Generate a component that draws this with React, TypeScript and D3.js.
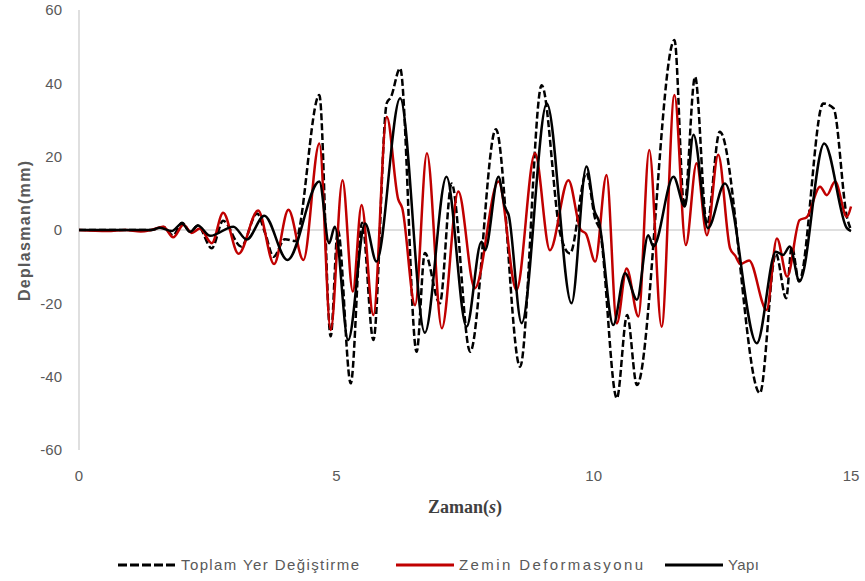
import React from "react";
import * as d3 from "d3";

// [zaman (s), deplasman (mm)] - peaks
const toplam: [number, number][] = [
  [0, 0], [1.4, 0], [1.64, 0.8], [1.83, -1.5], [2.0, 2], [2.16, -0.5], [2.31, 1.2],
  [2.58, -5], [2.8, 2.5], [3.15, -4.5], [3.46, 4.5], [3.62, -1], [3.78, -7.3],
  [4.0, -2.5], [4.2, -3], [4.67, 36.8], [4.89, -29], [5.03, 0], [5.28, -41.8],
  [5.5, 2], [5.72, -30], [5.98, 34.6], [6.06, 36.2], [6.24, 44.1], [6.56, -33.2],
  [6.72, -6.3], [7.01, -20], [7.24, 12.7], [7.6, -33.2], [8.1, 27.5], [8.57, -37.3],
  [8.99, 39.5], [9.35, -1], [9.54, -6.4], [9.86, 15.5], [10.03, 3], [10.12, 0],
  [10.45, -45.9], [10.65, -23.2], [10.84, -42.3], [11.57, 51.8], [11.76, 6.4],
  [11.97, 41.8], [12.2, 1.5], [12.45, 26.8], [13.23, -44.5], [13.54, -6.4],
  [13.74, -18.6], [13.85, -4.5], [13.99, -14], [14.46, 34.5], [14.66, 33.2],
  [14.92, 3.6], [15, 0],
];

const zemin: [number, number][] = [
  [0, 0], [0.55, -0.3], [0.9, 0], [1.2, -0.4], [1.4, 0], [1.64, 0.9], [1.83, -2],
  [2.03, 1.4], [2.19, -0.8], [2.35, 0.4], [2.58, -3.6], [2.8, 4.7], [3.1, -6.5],
  [3.48, 5.3], [3.79, -9.3], [4.07, 5.5], [4.36, -8.2], [4.67, 23.6], [4.89, -27.3],
  [5.12, 13.6], [5.32, -16.8], [5.49, 6.8], [5.72, -23.2], [5.98, 30.9], [6.2, 8.5],
  [6.28, 6], [6.53, -20.5], [6.76, 20.9], [7.05, -26.8], [7.37, 10.5], [7.69, -15.9],
  [8.15, 13.2], [8.5, -16.4], [8.86, 20.9], [9.15, -5.5], [9.51, 13.6], [9.75, 0],
  [9.85, -1], [10.03, -8.6], [10.25, 15], [10.45, -25.5], [10.64, -10.5],
  [10.87, -23.6], [11.08, 21.8], [11.32, -26.4], [11.57, 36.8], [11.79, -4.1],
  [12.0, 18.2], [12.2, -1.4], [12.42, 20.5], [12.65, -5], [12.75, -7], [12.85, -9.3],
  [13.02, -8.3], [13.36, -21.8], [13.56, -2.3], [13.76, -12.7], [14.0, 2.7],
  [14.14, 3.5], [14.4, 11.8], [14.53, 9.5], [14.69, 13.2], [14.92, 3.6], [15, 6.4],
];

const yapi: [number, number][] = [
  [0, 0], [1.4, 0], [1.57, 0.6], [1.8, -0.3], [2.0, 1.8], [2.16, -0.5], [2.31, 1.2],
  [2.55, -1.6], [3.0, 0.9], [3.26, -2.6], [3.6, 3.9], [4.05, -8.2], [4.67, 13.2],
  [4.86, -3.6], [4.97, 0.9], [5.23, -30], [5.56, 1.8], [5.78, -8.6], [6.24, 35.9],
  [6.72, -28], [7.14, 14.5], [7.53, -26.4], [7.82, -3.2], [7.89, -5.5], [8.15, 14.5],
  [8.27, 6.5], [8.35, 4], [8.6, -25.4], [9.09, 34.5], [9.57, -20], [9.86, 17.3],
  [10.02, 5], [10.1, 2.5], [10.38, -25.9], [10.61, -11.8], [10.84, -19],
  [11.06, -1.4], [11.16, -4.5], [11.55, 14.5], [11.77, 6.4], [11.94, 26],
  [12.22, 0.5], [12.55, 12.7], [13.17, -30.9], [13.54, -5.9], [13.68, -6.8],
  [13.81, -4.5], [14.0, -14], [14.48, 23.6], [14.92, 0.5], [15, -0.3],
];

const yTicks = [-60, -40, -20, 0, 20, 40, 60];
const xTicks = [0, 5, 10, 15];

const series = [
  { name: "Toplam Yer Değiştirme", data: toplam, color: "#000000", dash: "7,3" },
  { name: "Zemin Deformasyonu", data: zemin, color: "#c00000", dash: undefined },
  { name: "Yapı", data: yapi, color: "#000000", dash: undefined },
];

const legendX = [118, 396, 665];
const legendTextLen = [178, 184, 31];

export default function App() {
  const width = 865;
  const height = 581;
  const x = d3.scaleLinear().domain([0, 15]).range([79, 851]);
  const y = d3.scaleLinear().domain([-60, 60]).range([450, 10]);

  const line = d3
    .line<[number, number]>()
    .x(d => x(d[0]))
    .y(d => y(d[1]))
    .curve(d3.curveMonotoneX);

  const font = "'Liberation Sans', Arial, sans-serif";

  return (
    <svg
      width={width}
      height={height}
      style={{ position: "absolute", left: 0, top: 0, background: "#fff" }}
    >
      {/* axis + zero line */}
      <line x1={x(0)} x2={x(0)} y1={y(60)} y2={y(-60)} stroke="#bfbfbf" strokeWidth={1} />
      <line x1={x(0)} x2={x(15)} y1={y(0)} y2={y(0)} stroke="#bfbfbf" strokeWidth={1} />

      {yTicks.map(t => (
        <text
          key={"y" + t}
          x={62}
          y={y(t)}
          dy="0.35em"
          textAnchor="end"
          fontFamily={font}
          fontSize={15}
          fill="#595959"
        >
          {t}
        </text>
      ))}
      {xTicks.map(t => (
        <text
          key={"x" + t}
          x={x(t)}
          y={481}
          textAnchor="middle"
          fontFamily={font}
          fontSize={15}
          fill="#595959"
        >
          {t}
        </text>
      ))}

      <text
        transform={`translate(24,${y(0) + 1}) rotate(-90)`}
        textAnchor="middle"
        dy="0.35em"
        fontFamily={font}
        fontWeight="bold"
        fontSize={16}
        fill="#595959"
        textLength={140}
        lengthAdjust="spacing"
      >
        Deplasman(mm)
      </text>
      <text
        x={465}
        y={513}
        textAnchor="middle"
        fontFamily="'Liberation Serif', 'Times New Roman', serif"
        fontWeight="bold"
        fontSize={18}
        fill="#404040"
      >
        Zaman(<tspan fontStyle="italic">s</tspan>)
      </text>

      {series.map(s => (
        <path
          key={s.name}
          d={line(s.data) || ""}
          fill="none"
          stroke={s.color}
          strokeWidth={2.5}
          strokeDasharray={s.dash}
          strokeLinejoin="round"
        />
      ))}

      {series.map((s, i) => (
        <g key={"lg" + s.name} transform={`translate(${legendX[i]},565)`}>
          <line
            x1={0}
            x2={58}
            y1={0}
            y2={0}
            stroke={s.color}
            strokeWidth={3}
            strokeDasharray={s.dash ? "9,3" : undefined}
          />
          <text
            x={63}
            y={0}
            dy="0.35em"
            fontFamily={font}
            fontSize={15}
            fill="#595959"
            textLength={legendTextLen[i]}
            lengthAdjust="spacing"
          >
            {s.name}
          </text>
        </g>
      ))}
    </svg>
  );
}
